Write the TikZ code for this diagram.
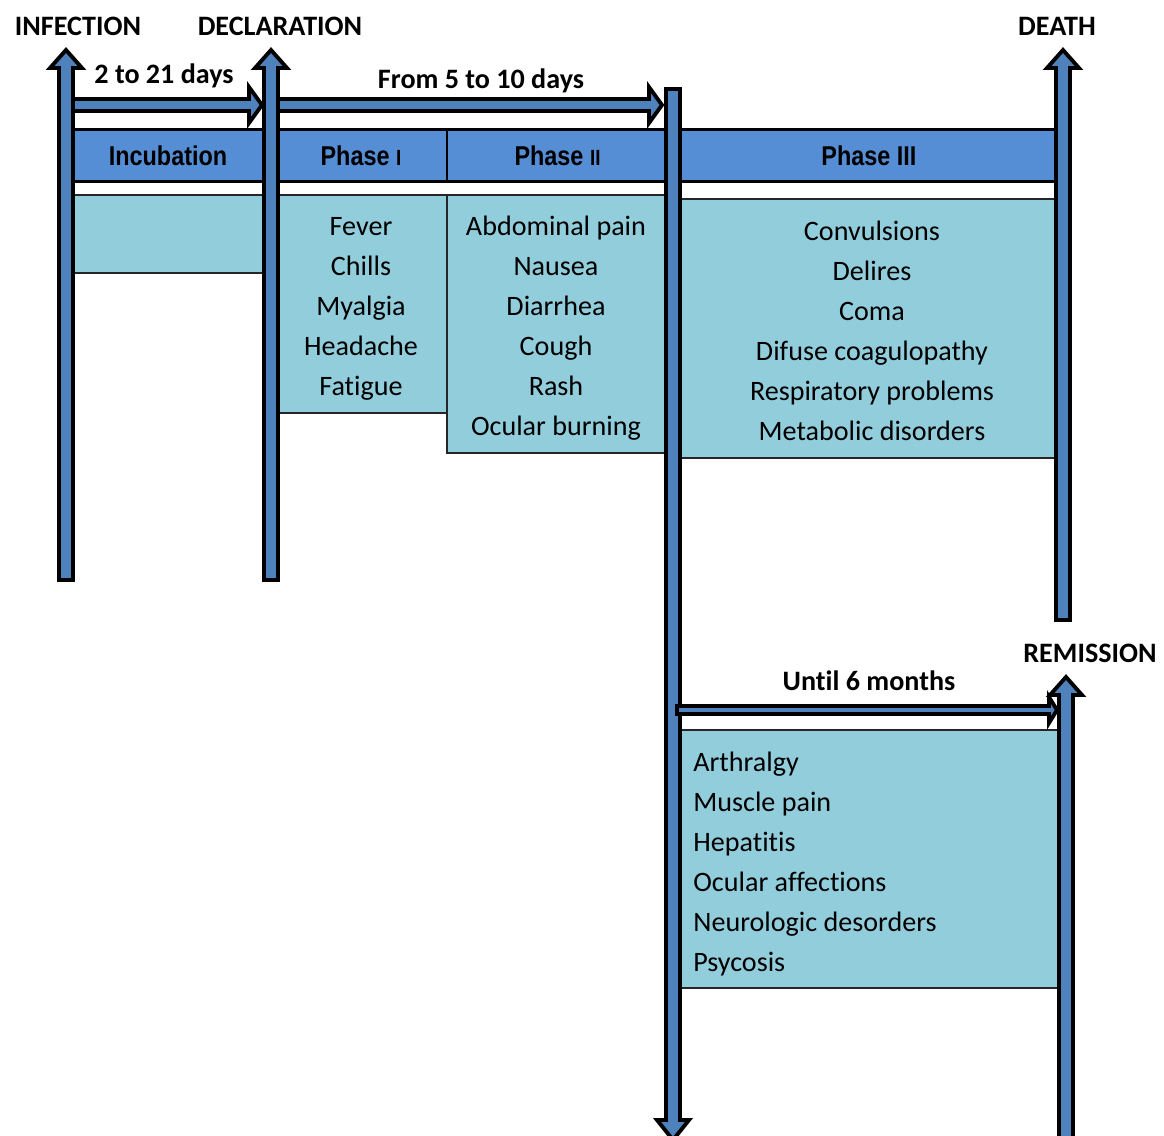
\documentclass[tikz,border=0pt]{standalone}
\usepackage{fontspec}
\setmainfont{Carlito}[Ligatures=NoCommon]
\newfontfamily\hdrfont[FakeStretch=0.86]{Liberation Sans}
\usepackage{tikz}
\usetikzlibrary{calc,positioning}
\definecolor{barblue}{HTML}{4F81BD}
\definecolor{hdrblue}{HTML}{558ED5}
\definecolor{symcyan}{HTML}{92CDDC}
\def\pxu{0.02cm}
\tikzset{
  blockarr/.style={draw=black,fill=barblue,line width=2.2pt,line join=miter},
  evtlbl/.style={font=\fontsize{16}{19}\selectfont\bfseries,inner sep=0,anchor=base},
  hdr/.style={draw=black,line width=1.7pt,fill=hdrblue,inner sep=0,
    font=\hdrfont\bfseries\fontsize{15.5}{18}\selectfont},
  symbox/.style={draw=black!85,line width=0.6pt,fill=symcyan,inner sep=0},
  symtxt/.style={font=\fontsize{16}{19}\selectfont,inner sep=0,anchor=base}
}
% up arrow from foot to tip
\newcommand{\uparr}[2]{\draw[blockarr] ($(#1)+(-7,0)$) -- ($(#2)+(-7,18)$) -- ($(#2)+(-16,18)$)
  -- (#2) -- ($(#2)+(16,18)$) -- ($(#2)+(7,18)$) -- ($(#1)+(7,0)$) -- cycle;}
% right arrow: start, tip, shaft half, head half, head length
\newcommand{\rtarr}[5]{\draw[blockarr] ($(#1)+(0,-#3)$) -- ($(#2)+(-#5,-#3)$) -- ($(#2)+(-#5,-#4)$)
  -- (#2) -- ($(#2)+(-#5,#4)$) -- ($(#2)+(-#5,#3)$) -- ($(#1)+(0,#3)$) -- cycle;}
\newcommand{\smallrn}[1]{{\fontsize{12.5}{12.5}\selectfont #1}}

\begin{document}
\begin{tikzpicture}[x=\pxu,y=-\pxu]
\useasboundingbox (0,0) rectangle (1164,1136);
\fill[white] (0,0) rectangle (1164,1136);

% headers
\node[hdr,minimum width=196*\pxu,minimum height=52*\pxu] (hinc) at (168,155.5) {Incubation};
\node[hdr,minimum width=172*\pxu,minimum height=52*\pxu] (hone) at (361,155.5) {Phase \smallrn{I}};
\node[hdr,minimum width=221*\pxu,minimum height=52*\pxu] (htwo) at (557.5,155.5) {Phase \smallrn{II}};
\node[hdr,minimum width=382*\pxu,minimum height=52*\pxu] (hthree) at (869,155.5) {Phase III};

% symptoms
\node[symbox,minimum width=196*\pxu,minimum height=78*\pxu] (sinc) at (168,234) {};
\node[symbox,minimum width=172*\pxu,minimum height=218*\pxu] (sone) at (361,304) {};
\node[symbox,minimum width=221*\pxu,minimum height=258*\pxu] (stwo) at (557.5,324) {};
\node[symbox,minimum width=382*\pxu,minimum height=259*\pxu] (sthree) at (869,328.5) {};
\node[symbox,minimum width=384*\pxu,minimum height=258*\pxu] (srem) at (870,859) {};

\foreach \s [count=\i from 0] in {Fever,Chills,Myalgia,Headache,Fatigue}
  \node[symtxt] (one\i) at (361,{235+40*\i}) {\s};
\foreach \s [count=\i from 0] in {Abdominal pain,Nausea,Diarrhea,Cough,Rash,Ocular burning}
  \node[symtxt] (two\i) at (556,{235+40*\i}) {\s};
\foreach \s [count=\i from 0] in {Convulsions,Delires,Coma,Difuse coagulopathy,Respiratory problems,Metabolic disorders}
  \node[symtxt] (three\i) at (872,{240+40*\i}) {\s};
\foreach \s [count=\i from 0] in {Arthralgy,Muscle pain,Hepatitis,Ocular affections,Neurologic desorders,Psycosis}
  \node[symtxt,anchor=base west] (rem\i) at (693,{771+40*\i}) {\s};

% events
\node[evtlbl] (infection) at (78,35) {INFECTION};
\node[evtlbl] (declaration) at (280,35) {DECLARATION};
\node[evtlbl] (death) at (1057,35) {DEATH};
\node[evtlbl] (remission) at (1090,662) {REMISSION};
\node[evtlbl] (durinc) at (164,83) {2 to 21 days};
\node[evtlbl] (durphase) at (481,88) {From 5 to 10 days};
\node[evtlbl] (durrem) at (869,690) {Until 6 months};

\coordinate (infbot) at (66,580);   \coordinate (inftop) at (66,50);
\coordinate (decbot) at (271,580);  \coordinate (dectop) at (271,50);
\coordinate (deabot) at (1063,620); \coordinate (deatop) at (1063,50);
\coordinate (rembot) at (1066,1170);\coordinate (remtop) at (1066,677);
\coordinate (midtop) at (673,89);   \coordinate (midtip) at (673,1140);

\uparr{infbot}{inftop}
\uparr{decbot}{dectop}
\uparr{deabot}{deatop}
\uparr{rembot}{remtop}
\draw[blockarr] ($(midtop)+(-7,0)$) -- ($(midtip)+(-7,-20)$) -- ($(midtip)+(-16,-20)$)
  -- (midtip) -- ($(midtip)+(16,-20)$) -- ($(midtip)+(7,-20)$) -- ($(midtop)+(7,0)$) -- cycle;

\coordinate (incstart) at (73,105);  \coordinate (incend) at (262,105);
\coordinate (phstart) at (278,105);  \coordinate (phend) at (662,105);
\coordinate (remstart) at (677,710); \coordinate (remend) at (1057,710);
\rtarr{incstart}{incend}{6}{18}{13}
\rtarr{phstart}{phend}{6}{18}{13}
\rtarr{remstart}{remend}{4}{13}{8}
\end{tikzpicture}
\end{document}
